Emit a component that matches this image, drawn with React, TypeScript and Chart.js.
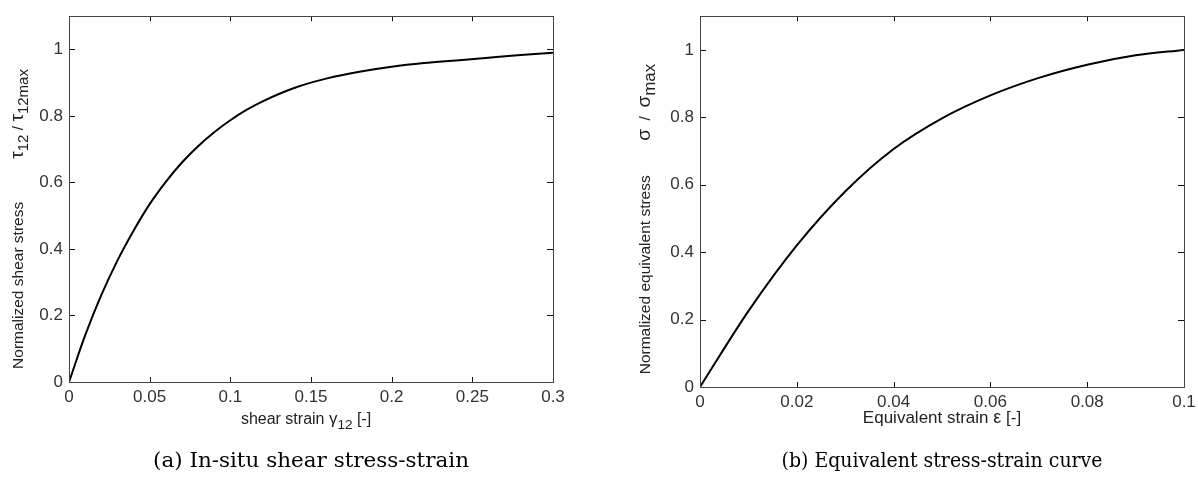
import React, { useEffect, useRef } from 'react';
import { Chart, registerables } from 'chart.js';

Chart.register(...registerables);

// ---- data ----
const shearStrain = [0, 0.01, 0.02, 0.03, 0.04, 0.05, 0.06, 0.07, 0.08, 0.09, 0.1, 0.11, 0.12, 0.14, 0.16, 0.18, 0.2, 0.22, 0.24, 0.26, 0.28, 0.3];
const shearStress = [0, 0.14, 0.261, 0.365, 0.455, 0.535, 0.602, 0.66, 0.709, 0.751, 0.787, 0.818, 0.844, 0.885, 0.913, 0.933, 0.948, 0.959, 0.967, 0.975, 0.983, 0.99];
const eqStrain = [0, 0.01, 0.02, 0.03, 0.04, 0.05, 0.06, 0.07, 0.08, 0.09, 0.1];
const eqStress = [0, 0.225, 0.42, 0.58, 0.706, 0.797, 0.865, 0.917, 0.956, 0.984, 1.0];

const shearStrainTicks = [0, 0.05, 0.1, 0.15, 0.2, 0.25, 0.3];
const eqStrainTicks = [0, 0.02, 0.04, 0.06, 0.08, 0.1];
const stressTicks = [0, 0.2, 0.4, 0.6, 0.8, 1];

type Seg = { t: string; sub?: boolean; big?: boolean };

const leftXTitle: Seg[] = [{ t: 'shear strain ' }, { t: 'γ', big: true }, { t: '12', sub: true }, { t: ' [-]' }];
const leftYTitle: Seg[] = [
  { t: 'Normalized shear stress          ' }, { t: 'τ', big: true }, { t: '12', sub: true }, { t: ' / ' }, { t: 'τ', big: true }, { t: '12max', sub: true },
];
const rightXTitle: Seg[] = [{ t: 'Equivalent strain ' }, { t: 'ε', big: true }, { t: ' [-]' }];
const rightYTitle: Seg[] = [
  { t: 'Normalized equivalent stress        ' }, { t: 'σ', big: true }, { t: '  /  ' }, { t: 'σ', big: true }, { t: 'max', sub: true },
];
const leftCaption = '(a) In-situ shear stress-strain';
const rightCaption = '(b) Equivalent stress-strain curve';

const SANS = '"Liberation Sans", Arial, sans-serif';
const SERIF = '"DejaVu Serif", serif';

function drawRich(ctx: CanvasRenderingContext2D, segs: Seg[], cx: number, baseline: number, size: number, subSize: number, bigSize: number) {
  const fontOf = (s: Seg) => `${s.sub ? subSize : s.big ? bigSize : size}px ${SANS}`;
  let w = 0;
  for (const s of segs) {
    ctx.font = fontOf(s);
    w += ctx.measureText(s.t).width;
  }
  let x = cx - w / 2;
  ctx.textAlign = 'left';
  ctx.textBaseline = 'alphabetic';
  for (const s of segs) {
    ctx.font = fontOf(s);
    ctx.fillText(s.t, x, baseline + (s.sub ? size * 0.33 : 0));
    x += ctx.measureText(s.t).width;
  }
}

interface PanelCfg {
  xs: number[];
  ys: number[];
  xTicks: number[];
  xMax: number;
  xTitle: Seg[];
  yTitle: Seg[];
  xTitleSize: number;
  ySubSize: number;
  caption: string;
  captionWidth: number;
  yAxisWidth: number;
  padTop: number;
  padRight: number;
  xAxisHeight: number;
  xTitleBaseline: number;
  xTitleCenter: number;
  yTitleBaselineX: number;
  yTitleCenterY: number;
  captionBaseline: number;
}

function makeChart(canvas: HTMLCanvasElement, c: PanelCfg) {
  const decor = {
    id: 'decor',
    afterDraw(chart: any) {
      const { ctx, chartArea: a, scales } = chart;
      ctx.save();
      // inner ticks on all four sides
      ctx.strokeStyle = '#111';
      ctx.lineWidth = 1;
      ctx.beginPath();
      for (const v of c.xTicks) {
        const px = Math.round(scales.x.getPixelForValue(v)) + 0.5;
        ctx.moveTo(px, a.bottom);
        ctx.lineTo(px, a.bottom - 5);
        ctx.moveTo(px, a.top);
        ctx.lineTo(px, a.top + 5);
      }
      for (const v of stressTicks) {
        const py = Math.round(scales.y.getPixelForValue(v)) + 0.5;
        ctx.moveTo(a.left, py);
        ctx.lineTo(a.left + 6, py);
        ctx.moveTo(a.right, py);
        ctx.lineTo(a.right - 6, py);
      }
      ctx.stroke();
      // frame
      ctx.strokeStyle = '#444';
      ctx.strokeRect(Math.round(a.left) + 0.5, Math.round(a.top) + 0.5, Math.round(a.right - a.left), Math.round(a.bottom - a.top));
      // axis titles
      ctx.fillStyle = '#222';
      drawRich(ctx, c.xTitle, c.xTitleCenter, c.xTitleBaseline, c.xTitleSize, 13.5, c.xTitleSize + 1);
      ctx.save();
      ctx.translate(c.yTitleBaselineX, c.yTitleCenterY);
      ctx.rotate(-Math.PI / 2);
      drawRich(ctx, c.yTitle, 0, 0, 15.5, c.ySubSize, 19);
      ctx.restore();
      // caption (horizontally fitted to the reference width)
      ctx.fillStyle = '#000';
      ctx.font = `20px ${SERIF}`;
      ctx.textAlign = 'center';
      ctx.textBaseline = 'alphabetic';
      const mw = ctx.measureText(c.caption).width;
      const cxc = (a.left + a.right) / 2;
      ctx.save();
      ctx.translate(cxc, c.captionBaseline);
      ctx.scale(c.captionWidth / mw, 1);
      ctx.fillText(c.caption, 0, 0);
      ctx.restore();
      ctx.restore();
    },
  };

  return new Chart(canvas, {
    type: 'line',
    data: {
      datasets: [
        {
          data: c.xs.map((x, i) => ({ x, y: c.ys[i] })),
          borderColor: '#000',
          borderWidth: 2,
          pointRadius: 0,
          cubicInterpolationMode: 'monotone',
          fill: false,
        },
      ],
    },
    options: {
      responsive: false,
      animation: false,
      devicePixelRatio: 1,
      layout: { padding: { left: 0, top: c.padTop, right: c.padRight, bottom: 0 } },
      plugins: { legend: { display: false }, tooltip: { enabled: false }, title: { display: false } },
      scales: {
        x: {
          type: 'linear',
          min: 0,
          max: c.xMax,
          grid: { display: false, drawTicks: false },
          border: { display: false },
          afterBuildTicks: (s: any) => {
            s.ticks = c.xTicks.map((v) => ({ value: v }));
          },
          afterFit: (s: any) => {
            s.height = c.xAxisHeight;
            s.paddingLeft = 0;
            s.paddingRight = 0;
          },
          ticks: {
            color: '#333',
            font: { family: SANS, size: 17 },
            padding: 5,
            maxRotation: 0,
            autoSkip: false,
            callback: (v: any) => String(v),
          },
        },
        y: {
          type: 'linear',
          min: 0,
          max: 1.1,
          grid: { display: false, drawTicks: false },
          border: { display: false },
          afterBuildTicks: (s: any) => {
            s.ticks = stressTicks.map((v) => ({ value: v }));
          },
          afterFit: (s: any) => {
            s.width = c.yAxisWidth;
          },
          ticks: {
            color: '#333',
            font: { family: SANS, size: 17 },
            padding: 6,
            autoSkip: false,
            callback: (v: any) => String(v),
          },
        },
      },
    },
    plugins: [decor],
  } as any);
}

function Panel({ cfg, left, width }: { cfg: PanelCfg; left: number; width: number }) {
  const ref = useRef<HTMLCanvasElement>(null);
  useEffect(() => {
    if (!ref.current) return;
    const ch = makeChart(ref.current, cfg);
    return () => ch.destroy();
  }, []);
  return (
    <canvas
      ref={ref}
      width={width}
      height={484}
      style={{ position: 'absolute', left, top: 0, width, height: 484 }}
    />
  );
}

const leftCfg: PanelCfg = {
  xs: shearStrain,
  ys: shearStress,
  xTicks: shearStrainTicks,
  xMax: 0.3,
  xTitle: leftXTitle,
  yTitle: leftYTitle,
  xTitleSize: 16,
  ySubSize: 15,
  caption: leftCaption,
  captionWidth: 316,
  yAxisWidth: 69,
  padTop: 12,
  padRight: 47,
  xAxisHeight: 102,
  xTitleBaseline: 424,
  xTitleCenter: 306,
  yTitleBaselineX: 23,
  yTitleCenterY: 219,
  captionBaseline: 467,
};

const rightCfg: PanelCfg = {
  xs: eqStrain,
  ys: eqStress,
  xTicks: eqStrainTicks,
  xMax: 0.1,
  xTitle: rightXTitle,
  yTitle: rightYTitle,
  xTitleSize: 17,
  ySubSize: 17,
  caption: rightCaption,
  captionWidth: 321,
  yAxisWidth: 100,
  padTop: 11,
  padRight: 14,
  xAxisHeight: 97,
  xTitleBaseline: 423,
  xTitleCenter: 342,
  yTitleBaselineX: 50,
  yTitleCenterY: 219,
  captionBaseline: 467,
};

export default function App() {
  return (
    <div style={{ position: 'absolute', left: 0, top: 0, width: 1198, height: 484, background: '#fff' }}>
      <Panel cfg={leftCfg} left={0} width={600} />
      <Panel cfg={rightCfg} left={600} width={598} />
    </div>
  );
}
